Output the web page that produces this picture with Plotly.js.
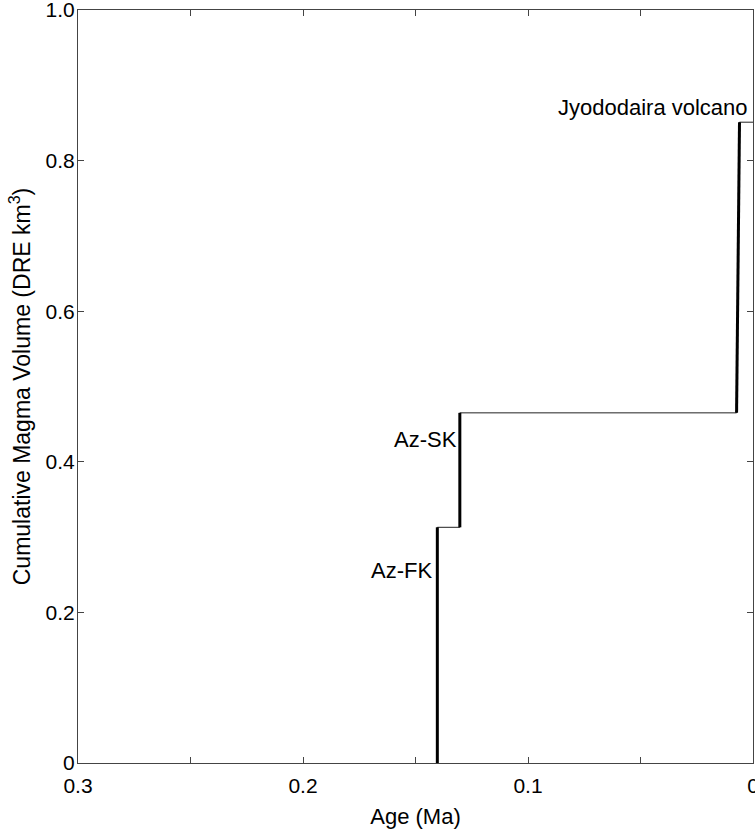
<!DOCTYPE html>
<html>
<head>
<meta charset="utf-8">
<script src="https://cdn.plot.ly/plotly-3.0.1.min.js"></script>
<style>html,body{margin:0;padding:0;background:#fff;}#chart{width:755px;height:829px;}</style>
</head>
<body>
<div id="chart"></div>
<script>
// Cumulative step curve (age in Ma, cumulative volume in DRE km3)
const stepAge = [0.1403, 0.1403, 0.1303, 0.1303, 0.0073, 0.0060, 0];
const stepVolume = [0, 0.313, 0.313, 0.465, 0.465, 0.851, 0.851];

// Eruption events (drawn thick): start/end age and volume before/after
const eventNames = ['Az-FK', 'Az-SK', 'Jyododaira volcano'];
const eventAgeStart = [0.1403, 0.1303, 0.0073];
const eventAgeEnd = [0.1403, 0.1303, 0.0060];
const eventVolBefore = [0, 0.313, 0.465];
const eventVolAfter = [0.313, 0.465, 0.851];

// Label anchor positions
const labelAge = [0.1403, 0.1303, 0.0015];
const labelVol = [0.256, 0.429, 0.870];

const xTickVals = [0.3, 0.2, 0.1, 0];
const xTickText = ['0.3', '0.2', '0.1', '0'];
const yTickVals = [0, 0.2, 0.4, 0.6, 0.8, 1.0];
const yTickText = ['0', '0.2', '0.4', '0.6', '0.8', '1.0'];

const thickX = [], thickY = [];
for (let i = 0; i < eventNames.length; i++) {
  thickX.push(eventAgeStart[i], eventAgeEnd[i], null);
  thickY.push(eventVolBefore[i], eventVolAfter[i], null);
}

const font = 'Liberation Sans, Arial, Helvetica, sans-serif';
const shifts = [-3, -1, 0];

const traces = [
  {x: stepAge, y: stepVolume, mode: 'lines', line: {color: '#222', width: 1}, hoverinfo: 'skip', showlegend: false},
  {x: thickX, y: thickY, mode: 'lines', line: {color: '#000', width: 3}, connectgaps: false, hoverinfo: 'skip', showlegend: false}
];

const annotations = eventNames.map((n, i) => ({
  x: labelAge[i], y: labelVol[i], xref: 'x', yref: 'y', text: n, showarrow: false,
  xanchor: 'right', yanchor: 'middle', xshift: shifts[i],
  font: {family: font, size: 22, color: '#000'}
}));

const layout = {
  width: 755, height: 829,
  margin: {l: 78, r: 2, t: 10, b: 66, autoexpand: false},
  paper_bgcolor: '#fff', plot_bgcolor: '#fff',
  font: {family: font, size: 21, color: '#000'},
  showlegend: false,
  xaxis: {
    range: [0.3, 0], tickvals: xTickVals, ticktext: xTickText,
    ticks: 'inside', ticklen: 6, tickcolor: '#444', tickwidth: 1,
    minor: {dtick: 0.05, tick0: 0, ticks: 'inside', ticklen: 6, tickcolor: '#444', tickwidth: 1, showgrid: false},
    showline: true, linecolor: '#444', linewidth: 1, mirror: 'allticks',
    showgrid: false, zeroline: false, ticklabelstandoff: 4, ticklabeloverflow: 'allow',
    tickfont: {family: font, size: 21, color: '#000'},
    title: {text: 'Age (Ma)', font: {family: font, size: 22, color: '#000'}, standoff: 12}
  },
  yaxis: {
    range: [0, 1.0], tickvals: yTickVals, ticktext: yTickText,
    ticks: 'inside', ticklen: 6, tickcolor: '#444', tickwidth: 1,
    showline: true, linecolor: '#444', linewidth: 1, mirror: 'allticks',
    showgrid: false, zeroline: false, ticklabelstandoff: -2, ticklabeloverflow: 'allow',
    tickfont: {family: font, size: 21, color: '#000'},
    title: {text: 'Cumulative Magma Volume (DRE km<sup>3</sup>)', font: {family: font, size: 23, color: '#000'}, standoff: 8}
  },
  annotations: annotations
};

Plotly.newPlot('chart', traces, layout, {staticPlot: true, displayModeBar: false});
</script>
</body>
</html>
